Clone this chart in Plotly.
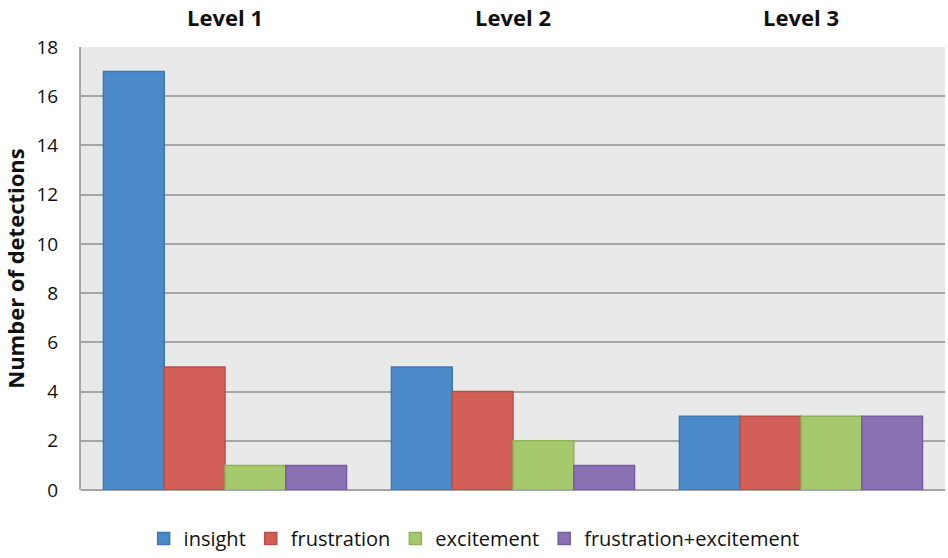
import plotly.graph_objects as go

levels = ["Level 1", "Level 2", "Level 3"]
series_names = ["insight", "frustration", "excitement", "frustration+excitement"]
insight = [17, 5, 3]
frustration = [5, 4, 3]
excitement = [1, 2, 3]
frustration_excitement = [1, 1, 3]
y_ticks = [0, 2, 4, 6, 8, 10, 12, 14, 16, 18]

values = [insight, frustration, excitement, frustration_excitement]
fills = ["#4a8ac8", "#d15f58", "#a6c96d", "#8a71b3"]
edges = ["#3e78b2", "#b84f49", "#8fb25a", "#7460a0"]

fig = go.Figure()
for name, vals, fc, ec in zip(series_names, values, fills, edges):
    fig.add_trace(go.Bar(
        x=levels, y=vals, name=name,
        marker=dict(color=fc, line=dict(color=ec, width=1.5)),
    ))

font_family = "Open Sans, Noto Sans, sans-serif"
fig.update_layout(
    width=948, height=558,
    margin=dict(l=81, r=3, t=47, b=68),
    paper_bgcolor="white",
    plot_bgcolor="#e9e9e9",
    barmode="group",
    bargap=0.156,
    bargroupgap=0,
    font=dict(family=font_family, color="#111111"),
    showlegend=True,
    legend=dict(
        orientation="h", x=0.455, xanchor="center",
        yref="container", y=-0.01, yanchor="bottom",
        font=dict(size=20, color="#111111"),
        itemwidth=30, tracegroupgap=0,
    ),
    xaxis=dict(
        side="top", showgrid=False, zeroline=False, showline=False,
        tickfont=dict(size=22, color="#111111", weight="bold"),
        ticks="", ticklabelstandoff=16,
    ),
    yaxis=dict(
        range=[0, 18], tickvals=y_ticks,
        showgrid=True, gridcolor="#a5a5a5", gridwidth=2,
        zeroline=True, zerolinecolor="#a5a5a5", zerolinewidth=2,
        showline=True, linecolor="#a5a5a5", linewidth=2,
        tickfont=dict(size=19, color="#111111"),
        ticks="", ticklabelstandoff=17,
        title=dict(text="Number of detections", standoff=12,
                   font=dict(size=22, color="#111111", weight="bold")),
    ),
)

fig.write_html("out.html")
